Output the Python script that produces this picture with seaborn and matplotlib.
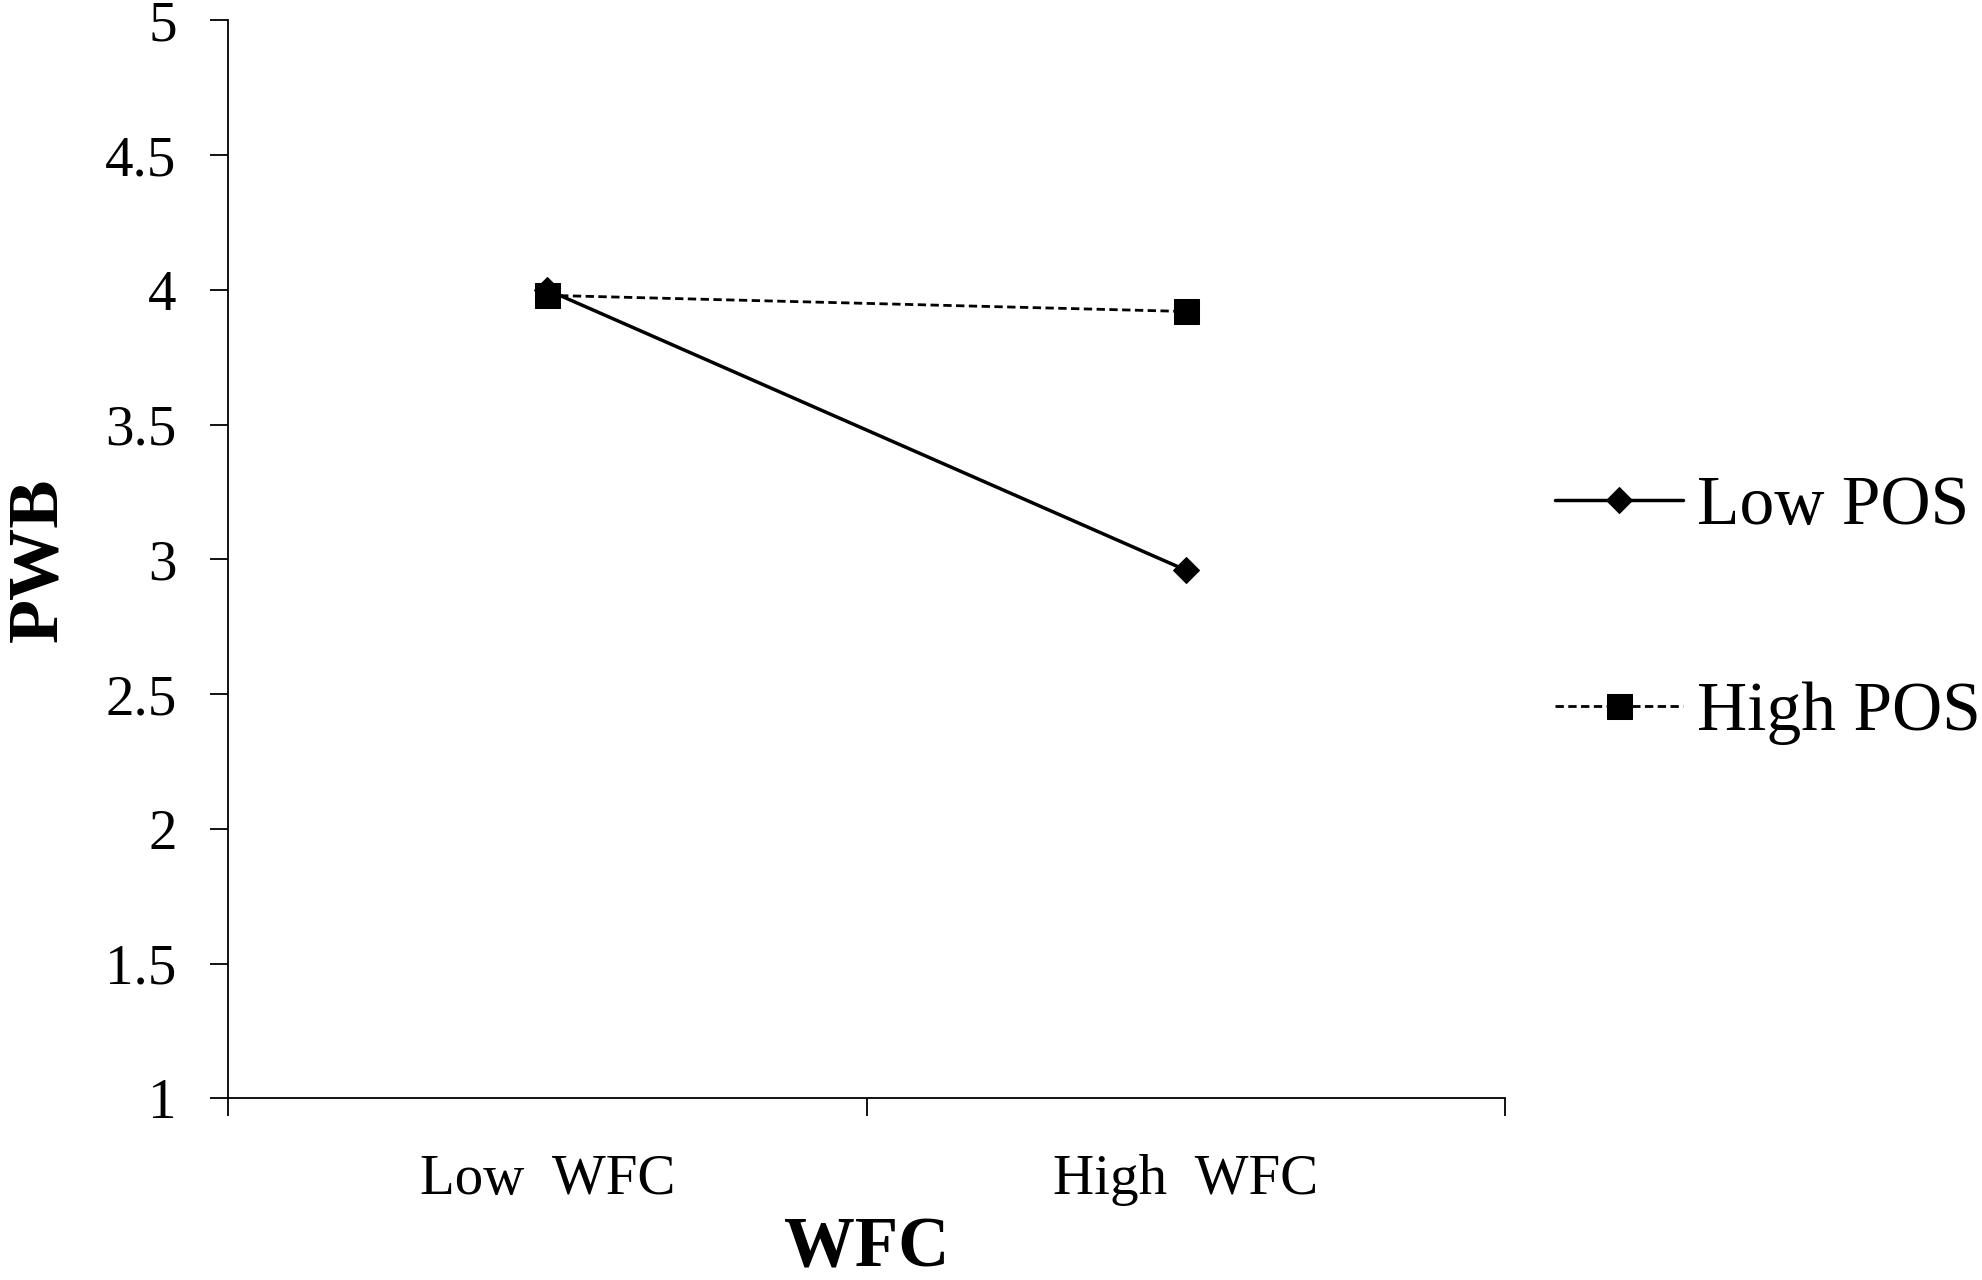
import matplotlib
matplotlib.use("Agg")
import matplotlib.pyplot as plt
import seaborn as sns
import pandas as pd

categories = ["Low  WFC", "High  WFC"]
series = ["Low POS", "High POS"]
low_pos = [4.00, 2.96]
high_pos = [3.98, 3.92]
y_ticks = [1, 1.5, 2, 2.5, 3, 3.5, 4, 4.5, 5]
y_tick_labels = ["1", "1.5", "2", "2.5", "3", "3.5", "4", "4.5", "5"]

rows = []
for s, vals in zip(series, [low_pos, high_pos]):
    for i, (c, v) in enumerate(zip(categories, vals)):
        rows.append({"pos": i, "WFC": c, "PWB": v, "POS": s})
df = pd.DataFrame(rows)

sns.set_style("white")
plt.rcParams["font.family"] = ["Liberation Serif", "DejaVu Serif"]
plt.rcParams["text.color"] = "black"
plt.rcParams["axes.labelcolor"] = "black"
plt.rcParams["xtick.color"] = "black"
plt.rcParams["ytick.color"] = "black"

fig = plt.figure(figsize=(19.83, 12.8), dpi=100)
ax = fig.add_axes([0.115, 0.142, 0.644, 0.842])

sns.lineplot(data=df, x="pos", y="PWB", hue="POS", style="POS",
             palette={"Low POS": "black", "High POS": "black"},
             markers={"Low POS": "D", "High POS": "s"},
             dashes={"Low POS": "", "High POS": (3, 1.6)},
             markersize=16, linewidth=2.4, ax=ax, legend=False,
             markeredgecolor="black")
for line, ms, lw in zip(ax.get_lines(), [13, 18], [2.5, 2.0]):
    line.set_markersize(ms)
    line.set_linewidth(lw)

ax.set_xlim(-0.5, 1.5)
ax.set_ylim(1, 5)
ax.set_yticks(y_ticks)
ax.set_yticklabels(y_tick_labels)
ax.set_xticks([0, 1])
ax.set_xticklabels(categories)
ax.set_xticks([-0.5, 0.5, 1.5], minor=True)
ax.tick_params(axis="x", which="major", length=0, pad=40, labelsize=41)
ax.tick_params(axis="x", which="minor", length=13, width=1.3, direction="out", bottom=True)
ax.tick_params(axis="y", which="major", length=13, width=1.3, direction="out", left=True,
               pad=24, labelsize=41)

for side in ["top", "right"]:
    ax.spines[side].set_visible(False)
for side in ["left", "bottom"]:
    ax.spines[side].set_color("black")
    ax.spines[side].set_linewidth(1.3)

ax.set_xlabel("WFC", fontsize=51, fontweight="bold")
ax.set_ylabel("PWB", fontsize=52, fontweight="bold")
ax.xaxis.label.set_va("center")
ax.yaxis.label.set_va("center")
ax.xaxis.set_label_coords(0.5, -0.14)
ax.yaxis.set_label_coords(-0.148, 0.5)

handles = ax.get_lines()[:2]
leg = fig.legend(handles, series, loc="center left", bbox_to_anchor=(0.784, 0.523),
                 frameon=False, fontsize=50, labelspacing=2.05, handlelength=1.85,
                 handletextpad=0.2, borderpad=0, borderaxespad=0)

fig.savefig("out.png", dpi=100, facecolor="white")
